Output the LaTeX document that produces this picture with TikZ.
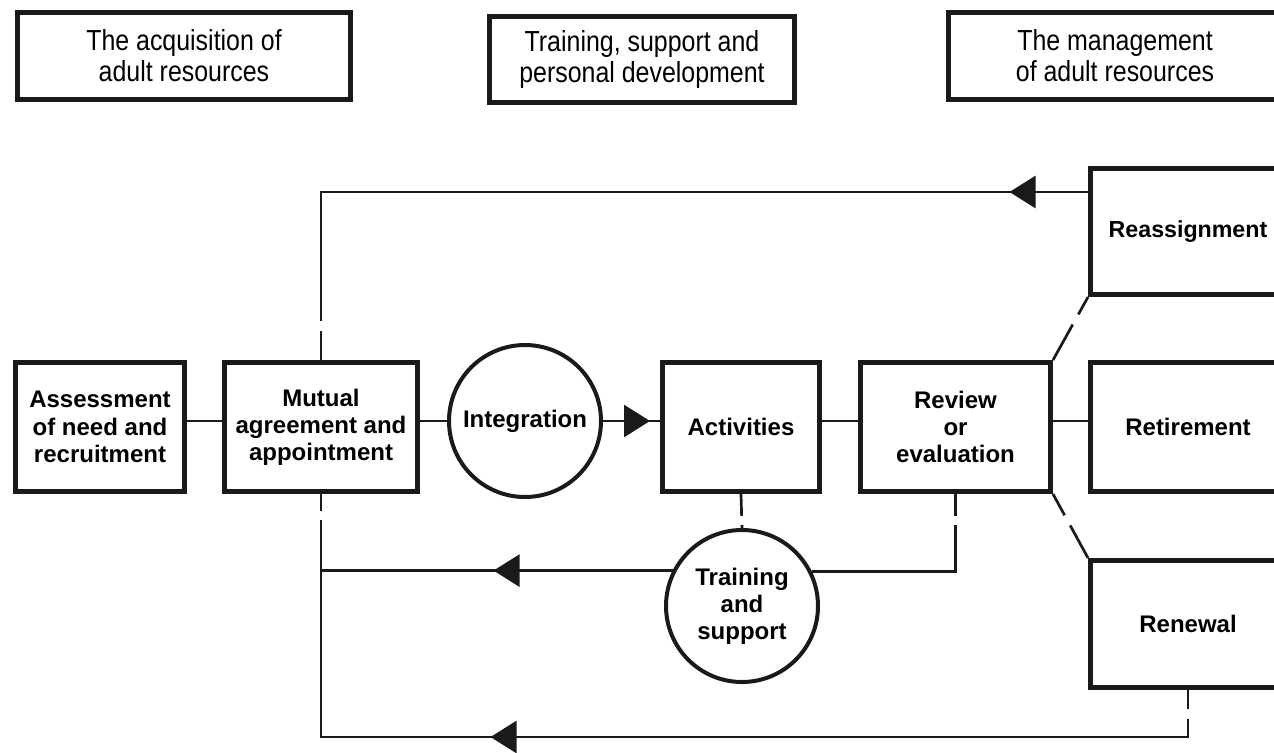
\documentclass[tikz,border=0pt]{standalone}
\usepackage{fontspec}
\setmainfont{Liberation Sans}
\newfontfamily\topfont[FakeStretch=0.86]{Liberation Sans}
\usepackage{tikz}
\usetikzlibrary{arrows.meta,positioning,calc,decorations.markings}
\definecolor{ink}{HTML}{1A1A1A}
\tikzset{
  box/.style={draw=ink, line width=2.5pt, align=center, fill=white, inner sep=2pt, font=\bfseries\fontsize{12}{13.6}\selectfont},
  topbox/.style={draw=ink, line width=2.5pt, align=center, fill=white, inner sep=2pt, font=\topfont\fontsize{14.5}{15.5}\selectfont},
  ring/.style={draw=ink, circle, line width=2pt, align=center, fill=white, inner sep=0pt, minimum size=76pt, font=\bfseries\fontsize{12}{13.6}\selectfont},
  link/.style={draw=ink, line width=1.35pt},
  flowtip/.style={postaction={decorate}, decoration={markings, mark=at position #1 with {\arrow{Triangle[length=13pt,width=16pt]}}}}
}

\begin{document}
\begin{tikzpicture}[x=0.5pt, y=-0.5pt]
  \useasboundingbox (0,0) rectangle (1274,752);
  \clip (0,0) rectangle (1274,752);

  \node[topbox, minimum width=166.5pt, minimum height=43.5pt] (acq) at (184,56) {The acquisition of\\adult resources};
  \node[topbox, minimum width=152.5pt, minimum height=43pt] (tspd) at (642,59.5) {Training, support and\\personal development};
  \node[topbox, minimum width=166.5pt, minimum height=43.5pt] (mgmt) at (1115,56) {The management\\of adult resources};

  \node[box, minimum width=84.5pt, minimum height=64.5pt] (assess) at (100,427) {Assessment\\of need and\\recruitment};
  \node[box, minimum width=96.5pt, minimum height=64.5pt] (mutual) at (321,427) {Mutual\\agreement and\\appointment};
  \node[ring] (integ) at (525,421) {Integration};
  \node[box, minimum width=78.5pt, minimum height=64.5pt] (activ) at (741,427) {Activities};
  \node[box, minimum width=95pt, minimum height=64.5pt] (review) at (955.5,427) {Review\\or\\evaluation};
  \node[box, minimum width=97.5pt, minimum height=64.5pt] (retire) at (1188,427) {Retirement};
  \node[box, minimum width=97.5pt, minimum height=63pt, font=\bfseries\fontsize{11.6}{13.6}\selectfont] (reassign) at (1188,231.5) {Reassignment};
  \node[box, minimum width=97.5pt, minimum height=63.5pt] (renew) at (1188,624) {Renewal};
  \node[ring] (tsup) at (742,606) {Training\\and\\support};

  \coordinate (botcorner) at (321,737);

  \draw[link] (assess.east |- integ.west) -- (mutual.west |- integ.west);
  \draw[link] (mutual.east |- integ.west) -- (integ.west);
  \draw[link, flowtip=23.5pt] (integ.east) -- (activ.west |- integ.east);
  \draw[link] (activ.east |- integ.east) -- (review.west |- integ.east);
  \draw[link] (review.east |- integ.east) -- (retire.west |- integ.east);
  \draw[link, dash pattern=on 20.3pt off 5.8pt on 60pt] (review.north east) -- (reassign.south west);
  \draw[link, dash pattern=on 12.1pt off 5.8pt on 60pt] (review.south east) -- (renew.north west);
  \draw[link, dash pattern=on 448pt off 5pt on 300pt, flowtip=39.25pt] ($(reassign.west)+(0,-39.5)$) -| (mutual.north);
  \draw[link, dash pattern=on 11pt off 4.5pt on 50pt] (activ.south) -- (tsup.north);
  \draw[link, dash pattern=on 11pt off 4.5pt on 200pt] (review.south) |- (tsup.26.6);
  \draw[link, flowtip=89.5pt] (tsup.153.4) -- (mutual.south |- tsup.153.4);
  \draw[link, dash pattern=on 9.25pt off 5pt on 551.5pt off 4.5pt on 50pt, flowtip=372.25pt] (renew.south) |- (botcorner) -- (mutual.south);
\end{tikzpicture}
\end{document}
